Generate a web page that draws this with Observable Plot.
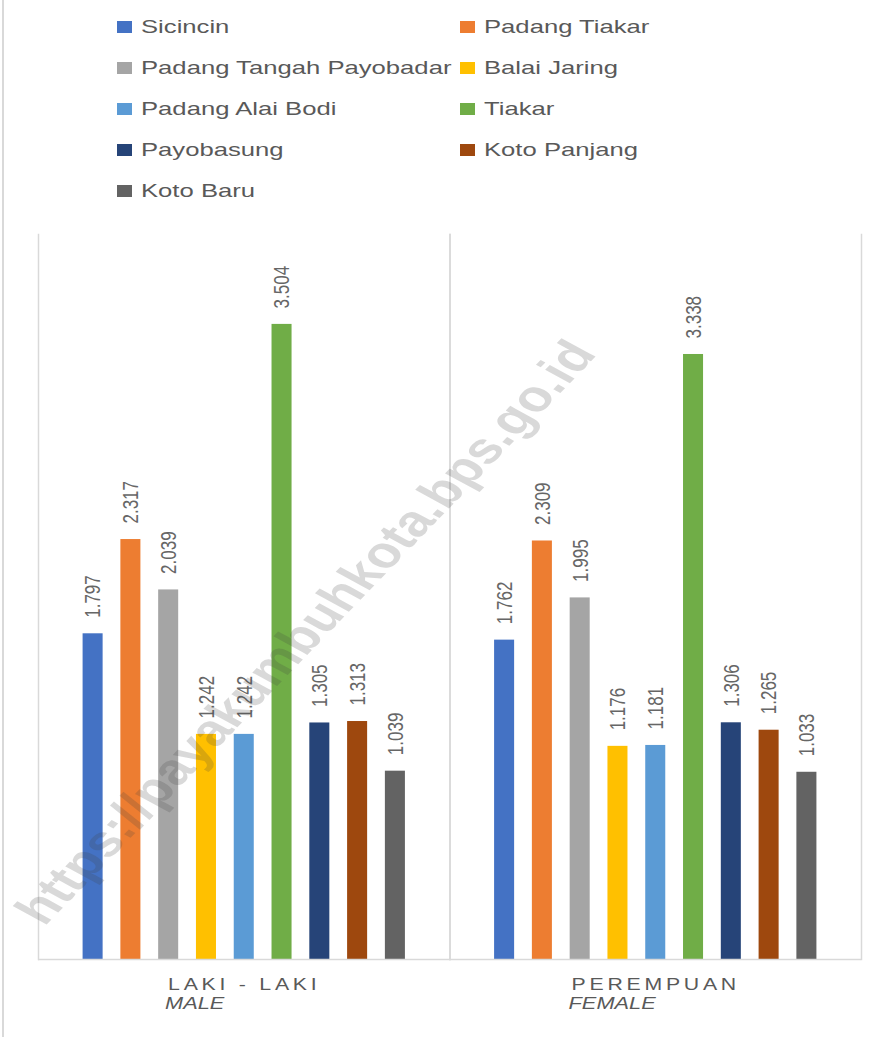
<!DOCTYPE html>
<html>
<head>
<meta charset="utf-8">
<script src="https://cdn.jsdelivr.net/npm/d3@7"></script>
<script src="https://cdn.jsdelivr.net/npm/@observablehq/plot@0.6"></script>
<style>
  body { margin: 0; background: #fff; }
  #wrap { position: relative; width: 890px; height: 1037px; overflow: hidden; font-family: "Liberation Sans", Arial, sans-serif; background: #fff; }
  #border { position: absolute; left: 2px; top: 0; width: 2px; height: 1037px; background: #d9d9d9; }
  #legend { position: absolute; left: 0; top: 0; width: 890px; height: 214px; }
  .item { position: absolute; height: 24px; display: flex; align-items: center; white-space: nowrap; }
  .sw { width: 15px; height: 12px; flex: none; }
  .lbl { display: inline-block; margin-left: 9px; font-size: 19px; color: #595959; transform: scaleX(1.35); transform-origin: left center; }
  #chart { position: absolute; left: 0; top: 214px; }
</style>
</head>
<body>
<div id="wrap">
  <div id="border"></div>
  <div id="legend"></div>
  <div id="chart"></div>
</div>
<script>
// ---- data ----
const villages = ["Sicincin", "Padang Tiakar", "Padang Tangah Payobadar", "Balai Jaring", "Padang Alai Bodi", "Tiakar", "Payobasung", "Koto Panjang", "Koto Baru"];
const colors = ["#4472C4", "#ED7D31", "#A5A5A5", "#FFC000", "#5B9BD5", "#70AD47", "#264478", "#9E480E", "#636363"];
const groups = ["LAKI - LAKI", "PEREMPUAN"];
const groupsEn = ["MALE", "FEMALE"];
const male = [1797, 2317, 2039, 1242, 1242, 3504, 1305, 1313, 1039];
const female = [1762, 2309, 1995, 1176, 1181, 3338, 1306, 1265, 1033];
const watermark = "https://payakumbuhkota.bps.go.id";

const rows = [];
groups.forEach((g, gi) => villages.forEach((v, i) => rows.push({group: g, village: v, value: (gi === 0 ? male : female)[i]})));
const groupLabels = groups.map((g, i) => ({group: g, en: groupsEn[i]}));

const idLocale = d3.formatLocale({decimal: ",", thousands: ".", grouping: [3], currency: ["Rp", ""]});
const fmt = idLocale.format(",");

// ---- legend ----
const legend = document.getElementById("legend");
villages.forEach((v, i) => {
  const col = i % 2, row = Math.floor(i / 2);
  const it = document.createElement("div");
  it.className = "item";
  it.style.left = (col === 0 ? 117 : 460) + "px";
  it.style.top = (27 + 41 * row - 12) + "px";
  it.innerHTML = `<span class="sw" style="background:${colors[i]}"></span><span class="lbl">${v}</span>`;
  legend.appendChild(it);
});

// ---- chart ----
const textFont = "Liberation Sans, Arial, sans-serif";
const chart = Plot.plot({
  width: 890,
  height: 823,
  marginTop: 20,
  marginBottom: 78,
  marginLeft: 38,
  marginRight: 29,
  style: {background: "transparent", fontFamily: textFont},
  fx: {domain: groups, padding: 0, axis: null, round: false},
  x: {domain: villages, paddingInner: 0.47, paddingOuter: 1.18, round: false, axis: null},
  y: {domain: [0, 4000], axis: null},
  color: {domain: villages, range: colors},
  marks: [
    Plot.frame({anchor: "left", stroke: "#d9d9d9", strokeWidth: 1.5}),
    Plot.frame({anchor: "right", stroke: "#d9d9d9", strokeWidth: 1.5}),
    Plot.barY(rows, {fx: "group", x: "village", y: "value", fill: "village"}),
    Plot.ruleY([0], {stroke: "#d9d9d9", strokeWidth: 1.5}),
    Plot.text(rows, {fx: "group", x: "village", y: "value", text: d => fmt(d.value), rotate: -90, textAnchor: "start", lineAnchor: "middle", dy: -16, fill: "#666666", fontSize: 17}),
    Plot.text(groupLabels, {fx: "group", text: "group", frameAnchor: "bottom", dy: 25, lineAnchor: "middle", textAnchor: "middle", fill: "#595959", fontSize: 17}),
    Plot.text(groupLabels, {fx: "group", text: "en", frameAnchor: "bottom", dy: 44, lineAnchor: "middle", textAnchor: "middle", fill: "#595959", fontSize: 17, fontStyle: "italic"})
  ]
});
document.getElementById("chart").appendChild(chart);

// post styling: stretch texts horizontally like the reference
const svg = d3.select(chart);
const isVal = t => /^\d\.\d{3}$/.test(t);
svg.selectAll("text").each(function() {
  const el = this, t = el.textContent;
  if (isVal(t)) {
    const tr = el.getAttribute("transform") || "";
    el.setAttribute("transform", tr + " scale(1,1.35)");
  }
});
const firsts = [], seconds = [];
svg.selectAll("text").each(function() {
  const t = this.textContent;
  if (groups.includes(t)) firsts.push(this);
  if (groupsEn.includes(t)) seconds.push(this);
});
firsts.forEach(el => {
  el.style.letterSpacing = "3px";
  const L = el.getComputedTextLength();
  el.setAttribute("textLength", L * 1.25);
  el.setAttribute("lengthAdjust", "spacingAndGlyphs");
});
seconds.forEach((el, i) => {
  const L = el.getComputedTextLength();
  el.setAttribute("textLength", L * 1.28);
  el.setAttribute("lengthAdjust", "spacingAndGlyphs");
  const f = firsts[i];
  if (f) {
    const bb = f.getBBox();
    el.setAttribute("text-anchor", "start");
    el.setAttribute("x", bb.x - 3);
  }
});

// watermark overlay (drawn on top of the bars)
svg.append("text")
  .attr("transform", "translate(305,418) scale(1.33,1) rotate(-54)")
  .attr("text-anchor", "middle")
  .attr("dominant-baseline", "central")
  .attr("font-family", textFont)
  .attr("font-weight", "bold")
  .attr("font-size", 43.5)
  .attr("fill", "rgba(64,64,64,0.2)")
  .text(watermark);
</script>
</body>
</html>
